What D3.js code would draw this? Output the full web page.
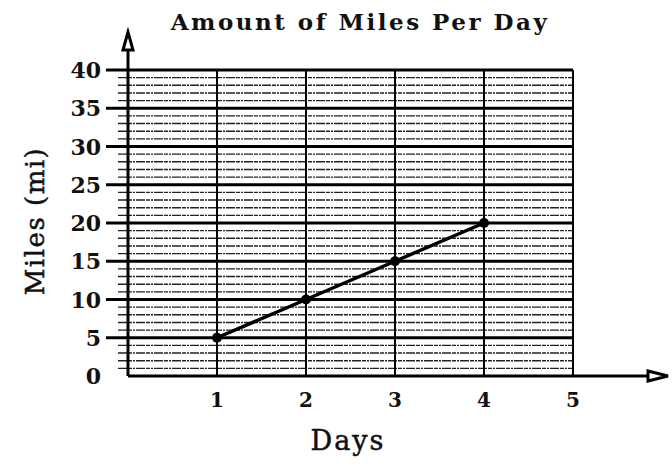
<!DOCTYPE html>
<html>
<head>
<meta charset="utf-8">
<script src="https://cdn.jsdelivr.net/npm/d3@7"></script>
<style>
body { margin: 0; background: #fff; }
text { font-family: "DejaVu Serif", "Liberation Serif", serif; fill: #111; }
</style>
</head>
<body>
<script>
var days = [1, 2, 3, 4];
var miles = [5, 10, 15, 20];
var xTicks = [1, 2, 3, 4, 5];
var yTicks = [0, 5, 10, 15, 20, 25, 30, 35, 40];

var w = 672;
var h = 466;

var x = d3.scaleLinear().domain([0, 5]).range([128, 573]);
var y = d3.scaleLinear().domain([0, 40]).range([376, 70]);

var svg = d3.select("body")
			.append("svg")
			.attr("width", w)
			.attr("height", h);

//minor lines every mile
var minor = d3.range(1, 40).filter(function(d) { return d % 5 != 0; });
svg.selectAll("line.minor")
	.data(minor)
	.enter()
	.append("line")
	.attr("class", "minor")
	.attr("x1", x(0) - 10)
	.attr("x2", x(5))
	.attr("y1", function(d) { return y(d); })
	.attr("y2", function(d) { return y(d); })
	.attr("stroke", "#222")
	.attr("stroke-width", 1.4)
	.attr("stroke-dasharray", "9,1,4,1,2,1");

//vertical grid
svg.selectAll("line.vgrid")
	.data(xTicks)
	.enter()
	.append("line")
	.attr("class", "vgrid")
	.attr("x1", function(d) { return x(d); })
	.attr("x2", function(d) { return x(d); })
	.attr("y1", y(40))
	.attr("y2", y(0))
	.attr("stroke", "#000")
	.attr("stroke-width", 2);

//major horizontal grid
svg.selectAll("line.hgrid")
	.data(yTicks.filter(function(d) { return d > 0; }))
	.enter()
	.append("line")
	.attr("class", "hgrid")
	.attr("x1", x(0) - 22)
	.attr("x2", x(5))
	.attr("y1", function(d) { return y(d); })
	.attr("y2", function(d) { return y(d); })
	.attr("stroke", "#000")
	.attr("stroke-width", 3);

//axes with arrows
svg.append("line")
	.attr("x1", x(0)).attr("x2", x(0))
	.attr("y1", y(0)).attr("y2", 42)
	.attr("stroke", "#000").attr("stroke-width", 3);
svg.append("path")
	.attr("d", "M" + x(0) + ",32 L" + (x(0) - 5) + ",50 L" + (x(0) + 5) + ",50 Z")
	.attr("fill", "#fff").attr("stroke", "#000").attr("stroke-width", 3);

svg.append("line")
	.attr("x1", x(0)).attr("x2", 655)
	.attr("y1", y(0)).attr("y2", y(0))
	.attr("stroke", "#000").attr("stroke-width", 3);
svg.append("path")
	.attr("d", "M668," + y(0) + " L648," + (y(0) - 5) + " L648," + (y(0) + 5) + " Z")
	.attr("fill", "#fff").attr("stroke", "#000").attr("stroke-width", 3);

//tick labels
svg.selectAll("text.ylab")
	.data(yTicks)
	.enter()
	.append("text")
	.attr("class", "ylab")
	.attr("x", 101)
	.attr("y", function(d) { return y(d) + 8; })
	.attr("text-anchor", "end")
	.attr("font-size", 22)
	.attr("font-weight", "bold")
	.text(function(d) { return d; });

svg.selectAll("text.xlab")
	.data(xTicks)
	.enter()
	.append("text")
	.attr("class", "xlab")
	.attr("x", function(d) { return x(d); })
	.attr("y", 407)
	.attr("text-anchor", "middle")
	.attr("font-size", 20)
	.attr("font-weight", "bold")
	.text(function(d) { return d; });

//data line
var line = d3.line()
	.x(function(d, i) { return x(days[i]); })
	.y(function(d) { return y(d); });

svg.append("path")
	.datum(miles)
	.attr("d", line)
	.attr("fill", "none")
	.attr("stroke", "#000")
	.attr("stroke-width", 3.5);

svg.selectAll("circle.pt")
	.data(miles)
	.enter()
	.append("circle")
	.attr("class", "pt")
	.attr("cx", function(d, i) { return x(days[i]); })
	.attr("cy", function(d) { return y(d); })
	.attr("r", 5)
	.attr("fill", "#000");

//titles
svg.append("text")
	.attr("x", 360)
	.attr("y", 30)
	.attr("text-anchor", "middle")
	.attr("font-size", 23)
	.attr("font-weight", "bold")
	.attr("letter-spacing", 2.5)
	.text("Amount of Miles Per Day");

svg.append("text")
	.attr("transform", "translate(44,221) rotate(-90)")
	.attr("text-anchor", "middle")
	.attr("font-size", 26)
	.attr("letter-spacing", 1.5)
	.attr("stroke", "#111")
	.attr("stroke-width", 0.5)
	.text("Miles (mi)");

svg.append("text")
	.attr("x", 348)
	.attr("y", 450)
	.attr("text-anchor", "middle")
	.attr("font-size", 27)
	.attr("letter-spacing", 2)
	.attr("stroke", "#111")
	.attr("stroke-width", 0.5)
	.text("Days");
</script>
</body>
</html>
